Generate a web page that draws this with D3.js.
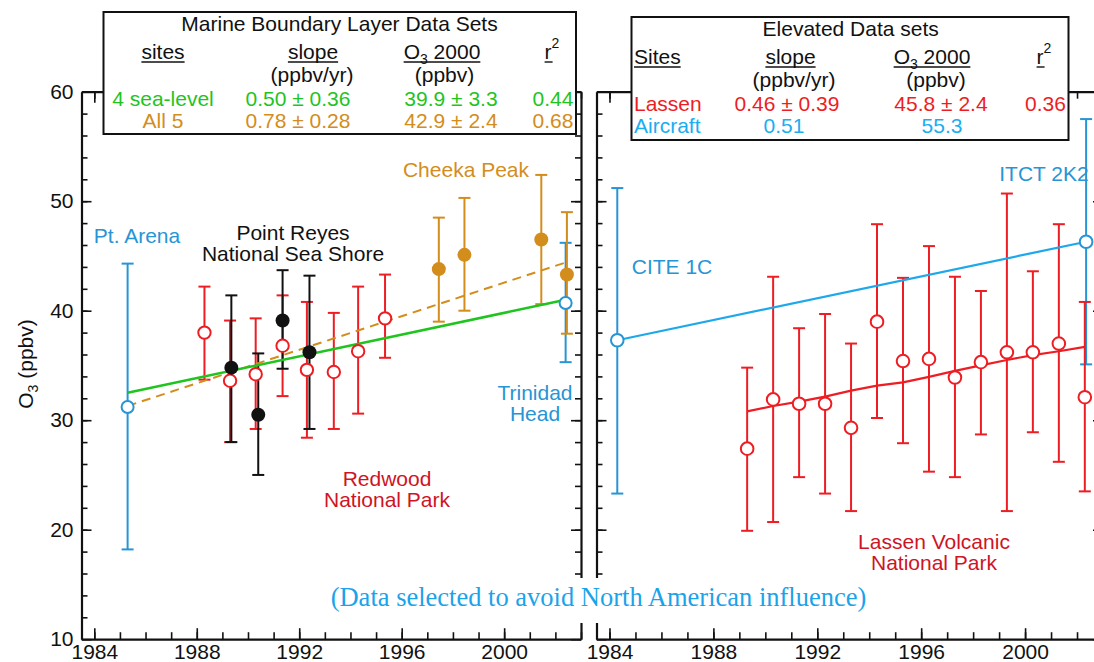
<!DOCTYPE html>
<html><head><meta charset="utf-8">
<script src="https://cdn.jsdelivr.net/npm/d3@7"></script>
<style>
body{margin:0;background:#fff}
svg{display:block;font-family:"Liberation Sans",Arial,Helvetica,sans-serif}
</style>
</head><body>
<svg id="chart" width="1094" height="662"></svg>
<script>
// ---------------- DATA ----------------
// Marine boundary layer sites (left panel)
const ptArenaYears = [1985.3];
const ptArenaO3    = [31.2];
const ptArenaLo    = [18.2];
const ptArenaHi    = [44.3];

const trinidadYears = [2002.4];
const trinidadO3    = [40.7];
const trinidadLo    = [35.3];
const trinidadHi    = [46.2];

const redwoodYears = [1988.3, 1989.3, 1990.3, 1991.35, 1992.3, 1993.35, 1994.3, 1995.35];
const redwoodO3    = [38.0, 33.6, 34.2, 36.8, 34.6, 34.4, 36.3, 39.3];
const redwoodLo    = [33.7, 28.0, 29.2, 32.2, 28.4, 29.2, 30.6, 35.7];
const redwoodHi    = [42.2, 39.1, 39.3, 41.4, 40.8, 39.8, 42.2, 43.3];

const reyesYears = [1989.35, 1990.4, 1991.35, 1992.4];
const reyesO3    = [34.8, 30.5, 39.1, 36.2];
const reyesLo    = [28.0, 25.0, 34.7, 29.2];
const reyesHi    = [41.4, 36.1, 43.7, 43.2];

const cheekaYears = [1997.45, 1998.45, 2001.45, 2002.45];
const cheekaO3    = [43.8, 45.1, 46.5, 43.3];
const cheekaLo    = [39.0, 40.0, 40.6, 37.9];
const cheekaHi    = [48.5, 50.3, 52.4, 49.0];

const seaLevelFitYears = [1985.3, 2002.4];
const seaLevelFitO3    = [32.5, 41.0];
const all5FitYears     = [1985.3, 2002.4];
const all5FitO3        = [31.3, 44.4];

// Elevated sites (right panel)
const citeYears = [1984.3];
const citeO3    = [37.3];
const citeLo    = [23.3];
const citeHi    = [51.2];

const itctYears = [2002.35];
const itctO3    = [46.3];
const itctLo    = [35.1];
const itctHi    = [57.5];

const aircraftFitYears = [1984.3, 2002.35];
const aircraftFitO3    = [37.3, 46.3];

const lassenYears = [1989.3, 1990.3, 1991.3, 1992.3, 1993.3, 1994.3, 1995.3, 1996.3, 1997.3, 1998.3, 1999.3, 2000.3, 2001.3, 2002.3];
const lassenO3    = [27.4, 31.9, 31.5, 31.5, 29.3, 39.0, 35.4, 35.6, 33.9, 35.3, 36.2, 36.2, 37.0, 32.1];
const lassenLo    = [19.9, 20.7, 24.8, 23.3, 21.7, 30.2, 27.9, 25.3, 24.8, 28.7, 21.7, 28.9, 26.2, 23.5];
const lassenHi    = [34.8, 43.1, 38.4, 39.7, 37.0, 47.9, 43.0, 45.9, 43.1, 41.8, 50.7, 43.6, 47.9, 40.8];

const lassenFitYears = [1989.3, 1990.3, 1991.3, 1992.3, 1993.3, 1994.3, 1995.3, 1996.3, 1997.3, 1998.3, 1999.3, 2000.3, 2001.3, 2002.3];
const lassenFitO3    = [30.8, 31.3, 31.7, 32.15, 32.7, 33.15, 33.45, 33.95, 34.5, 35.0, 35.5, 35.95, 36.3, 36.7];

// Axes
const yTicks      = [10, 20, 30, 40, 50, 60];
const yMinorTicks = d3.range(12, 60, 2);
const xTicks      = [1984, 1988, 1992, 1996, 2000];
const xMinorTicks = d3.range(1984, 2004, 1);
const xDomain = [1983.5, 2003];
const yDomain = [10, 60];

// Legend tables
const mblTitle   = "Marine Boundary Layer Data Sets";
const mblRows    = ["4 sea-level", "All 5"];
const mblSlope   = ["0.50 ± 0.36", "0.78 ± 0.28"];
const mblO3      = ["39.9 ± 3.3", "42.9 ± 2.4"];
const mblR2      = ["0.44", "0.68"];
const elevTitle  = "Elevated Data sets";
const elevRows   = ["Lassen", "Aircraft"];
const elevSlope  = ["0.46 ± 0.39", "0.51"];
const elevO3     = ["45.8 ± 2.4", "55.3"];
const elevR2     = ["0.36", ""];

// ---------------- STYLE ----------------
const GREEN = "#1fc41f", ORANGE = "#d38d1c", RED = "#ee1d24", RED_TXT = "#cf1424",
      BLUE = "#2795d5", BLUE_L = "#1ea8ec", BLACK = "#111";
const FS = 21;

const svg = d3.select("#chart");
const y = d3.scaleLinear().domain(yDomain).range([639.2, 91.7]);
const xL = d3.scaleLinear().domain(xDomain).range([81.5, 581]);
const xR = d3.scaleLinear().domain(xDomain).range([596.5, 1103]);

function frame(x, withYLabels) {
  const g = svg.append("g").attr("class", "frame");
  const [x0, x1] = x.range();
  const [yb, yt] = y.range();
  // bottom
  const gb = g.append("g").attr("transform", `translate(0,${yb})`);
  gb.call(d3.axisBottom(x).tickValues(xMinorTicks).tickSize(-7).tickSizeOuter(0).tickFormat(""));
  gb.append("g").call(d3.axisBottom(x).tickValues(xTicks).tickSize(-11).tickSizeOuter(0).tickPadding(5).tickFormat(d3.format("d")))
    .call(s => s.select(".domain").remove());
  // top
  const gt = g.append("g").attr("transform", `translate(0,${yt})`);
  gt.call(d3.axisTop(x).tickValues(xMinorTicks).tickSize(-7).tickSizeOuter(0).tickFormat(""));
  gt.append("g").call(d3.axisTop(x).tickValues(xTicks).tickSize(-11).tickSizeOuter(0).tickFormat(""))
    .call(s => s.select(".domain").remove());
  // left
  const gl = g.append("g").attr("transform", `translate(${x0},0)`);
  gl.call(d3.axisLeft(y).tickValues(yMinorTicks).tickSize(-6).tickSizeOuter(0).tickFormat(""));
  gl.append("g").call(d3.axisLeft(y).tickValues(yTicks).tickSize(-10).tickSizeOuter(0).tickPadding(8)
      .tickFormat(withYLabels ? d3.format("d") : ""))
    .call(s => s.select(".domain").remove());
  // right
  const gr = g.append("g").attr("transform", `translate(${x1},0)`);
  gr.call(d3.axisRight(y).tickValues(yMinorTicks).tickSize(-6).tickSizeOuter(0).tickFormat(""));
  gr.append("g").call(d3.axisRight(y).tickValues(yTicks).tickSize(-10).tickSizeOuter(0).tickFormat(""))
    .call(s => s.select(".domain").remove());

  g.selectAll(".domain").attr("stroke", BLACK).attr("stroke-width", 2.2);
  g.selectAll(".tick line").attr("stroke", BLACK).attr("stroke-width", 1.6);
  g.selectAll(".tick text").attr("fill", BLACK).attr("font-size", FS)
    .style("font-family", '"Liberation Sans",Arial,sans-serif');
  return g;
}

frame(xL, true);
frame(xR, false);

function errorBars(x, years, lo, hi, color, cap = 6) {
  const g = svg.append("g");
  const d = years.map((yr, i) => ({ yr, lo: lo[i], hi: hi[i] }));
  g.selectAll("line.v").data(d).join("line")
    .attr("x1", p => x(p.yr)).attr("x2", p => x(p.yr))
    .attr("y1", p => y(p.lo)).attr("y2", p => y(p.hi))
    .attr("stroke", color).attr("stroke-width", 2);
  ["lo", "hi"].forEach(k => {
    g.selectAll("line.c" + k).data(d).join("line")
      .attr("x1", p => x(p.yr) - cap).attr("x2", p => x(p.yr) + cap)
      .attr("y1", p => y(p[k])).attr("y2", p => y(p[k]))
      .attr("stroke", color).attr("stroke-width", 2);
  });
}
function markers(x, years, vals, color, open, r) {
  const d = years.map((yr, i) => ({ yr, v: vals[i] }));
  svg.append("g").selectAll("circle").data(d).join("circle")
    .attr("cx", p => x(p.yr)).attr("cy", p => y(p.v)).attr("r", r)
    .attr("fill", open ? "#fff" : color).attr("stroke", color)
    .attr("stroke-width", open ? 2 : 0);
}
function fitLine(x, years, vals, color, dash, w = 2.2) {
  const d = years.map((yr, i) => [yr, vals[i]]);
  svg.append("path").datum(d)
    .attr("d", d3.line().x(p => x(p[0])).y(p => y(p[1])))
    .attr("fill", "none").attr("stroke", color).attr("stroke-width", w)
    .attr("stroke-dasharray", dash || null);
}

// ---------- Left panel ----------
errorBars(xL, ptArenaYears, ptArenaLo, ptArenaHi, BLUE);
errorBars(xL, trinidadYears, trinidadLo, trinidadHi, BLUE);
errorBars(xL, redwoodYears, redwoodLo, redwoodHi, RED);
errorBars(xL, reyesYears, reyesLo, reyesHi, BLACK);
errorBars(xL, cheekaYears, cheekaLo, cheekaHi, ORANGE);
fitLine(xL, all5FitYears, all5FitO3, ORANGE, "9,6", 2);
fitLine(xL, seaLevelFitYears, seaLevelFitO3, GREEN, null, 2.6);
markers(xL, redwoodYears, redwoodO3, RED, true, 6.2);
markers(xL, reyesYears, reyesO3, BLACK, false, 7);
markers(xL, cheekaYears, cheekaO3, ORANGE, false, 7);
markers(xL, ptArenaYears, ptArenaO3, BLUE, true, 6);
markers(xL, trinidadYears, trinidadO3, BLUE, true, 6);

// ---------- Right panel ----------
errorBars(xR, citeYears, citeLo, citeHi, BLUE);
errorBars(xR, itctYears, itctLo, itctHi, BLUE);
errorBars(xR, lassenYears, lassenLo, lassenHi, RED);
fitLine(xR, aircraftFitYears, aircraftFitO3, BLUE_L, null, 2.2);
fitLine(xR, lassenFitYears, lassenFitO3, RED, null, 2.2);
markers(xR, lassenYears, lassenO3, RED, true, 6.3);
markers(xR, citeYears, citeO3, BLUE, true, 6.3);
markers(xR, itctYears, itctO3, BLUE, true, 6.3);

// ---------- Annotations ----------
function label(lines, cx, by, color, lh = 21, size = FS) {
  const t = svg.append("text").attr("text-anchor", "middle").attr("fill", color).attr("font-size", size);
  lines.forEach((s, i) => t.append("tspan").attr("x", cx).attr("y", by + i * lh).text(s));
}
label(["Pt. Arena"], 137, 243, BLUE);
label(["Point Reyes", "National Sea Shore"], 293, 240, BLACK);
label(["Cheeka Peak"], 466, 177, ORANGE);
label(["Trinidad", "Head"], 535, 400, BLUE);
label(["Redwood", "National Park"], 387, 486, RED_TXT);
label(["CITE 1C"], 672, 274, BLUE);
label(["ITCT 2K2"], 1044, 181, BLUE);
label(["Lassen Volcanic", "National Park"], 934, 549, RED_TXT);

// y axis title
const yt = svg.append("text").attr("transform", "translate(33,364) rotate(-90)")
  .attr("text-anchor", "middle").attr("font-size", FS).attr("fill", BLACK);
yt.append("tspan").text("O");
yt.append("tspan").attr("font-size", 14).attr("dy", 5).text("3");
yt.append("tspan").attr("dy", -5).text(" (ppbv)");

// Bottom note with white backing
svg.append("rect").attr("x", 326).attr("y", 578).attr("width", 546).attr("height", 45).attr("fill", "#fff");
svg.append("text").attr("x", 598.5).attr("y", 606).attr("text-anchor", "middle")
  .style("font-family", '"Liberation Serif","Times New Roman",serif').attr("font-size", 26.5)
  .attr("fill", "#1ba3ea").text("(Data selected to avoid North American influence)");

// ---------- Legend boxes ----------
function headerText(g, x, yb, anchor, parts) {
  const t = g.append("text").attr("x", x).attr("y", yb).attr("text-anchor", anchor)
    .attr("font-size", FS).attr("fill", BLACK);
  parts(t);
  const b = t.node().getBBox();
  g.append("line").attr("x1", b.x).attr("x2", b.x + b.width).attr("y1", yb + 3).attr("y2", yb + 3)
    .attr("stroke", BLACK).attr("stroke-width", 1.4);
  return t;
}
function legendBox(x0, y0, x1, y1, title, cols, rows, slope, o3, r2, colors, o) {
  const g = svg.append("g");
  g.append("rect").attr("x", x0).attr("y", y0).attr("width", x1 - x0).attr("height", y1 - y0)
    .attr("fill", "#fff").attr("stroke", BLACK).attr("stroke-width", 2);
  g.append("text").attr("x", o.titleX).attr("y", y0 + 19).attr("text-anchor", "middle")
    .attr("font-size", FS).attr("fill", BLACK).text(title);
  const hy = y0 + 47;
  headerText(g, cols.site, hy, o.siteAnchor, t => t.text(o.siteHeader));
  headerText(g, cols.slope, hy, "middle", t => t.text("slope"));
  headerText(g, cols.o3h, hy, "middle", t => {
    t.append("tspan").text("O");
    t.append("tspan").attr("font-size", 14).attr("dy", 5).text("3");
    t.append("tspan").attr("dy", -5).text(" 2000");
  });
  const rt = g.append("text").attr("x", cols.r2h).attr("y", hy).attr("text-anchor", "middle")
    .attr("font-size", FS).attr("fill", BLACK);
  rt.append("tspan").text("r");
  rt.append("tspan").attr("font-size", 14).attr("dy", -11).text("2");
  const rb = rt.node().getBBox();
  g.append("line").attr("x1", rb.x).attr("x2", rb.x + 8).attr("y1", hy + 3).attr("y2", hy + 3)
    .attr("stroke", BLACK).attr("stroke-width", 1.4);
  g.append("text").attr("x", cols.unitSlope).attr("y", y0 + 70).attr("text-anchor", "middle")
    .attr("font-size", FS).attr("fill", BLACK).text("(ppbv/yr)");
  g.append("text").attr("x", cols.unitO3).attr("y", y0 + 70).attr("text-anchor", "middle")
    .attr("font-size", FS).attr("fill", BLACK).text("(ppbv)");
  rows.forEach((r, i) => {
    const yy = y0 + 94 + i * 22;
    const c = colors[i];
    const add = (x, s, a) => g.append("text").attr("x", x).attr("y", yy).attr("text-anchor", a)
      .attr("font-size", FS).attr("fill", c).text(s);
    add(cols.site, r, o.siteAnchor);
    add(cols.slopeV[i], slope[i], "middle");
    add(cols.o3V[i], o3[i], "middle");
    if (r2[i]) add(cols.r2V, r2[i], "middle");
  });
}
legendBox(103.5, 12, 576, 134, mblTitle,
  { site: 163, slope: 313, o3h: 442, r2h: 552, unitSlope: 312, unitO3: 444.5,
    slopeV: [298, 298], o3V: [451, 451], r2V: 553 },
  mblRows, mblSlope, mblO3, mblR2, [GREEN, ORANGE],
  { titleX: 339.5, siteAnchor: "middle", siteHeader: "sites" });
legendBox(631.5, 17, 1068.5, 140, elevTitle,
  { site: 634, slope: 790.5, o3h: 932, r2h: 1044, unitSlope: 794, unitO3: 936,
    slopeV: [787, 784], o3V: [941, 942], r2V: 1045.5 },
  elevRows, elevSlope, elevO3, elevR2, [RED, "#1aadf0"],
  { titleX: 850.7, siteAnchor: "start", siteHeader: "Sites" });
</script>
</body></html>
